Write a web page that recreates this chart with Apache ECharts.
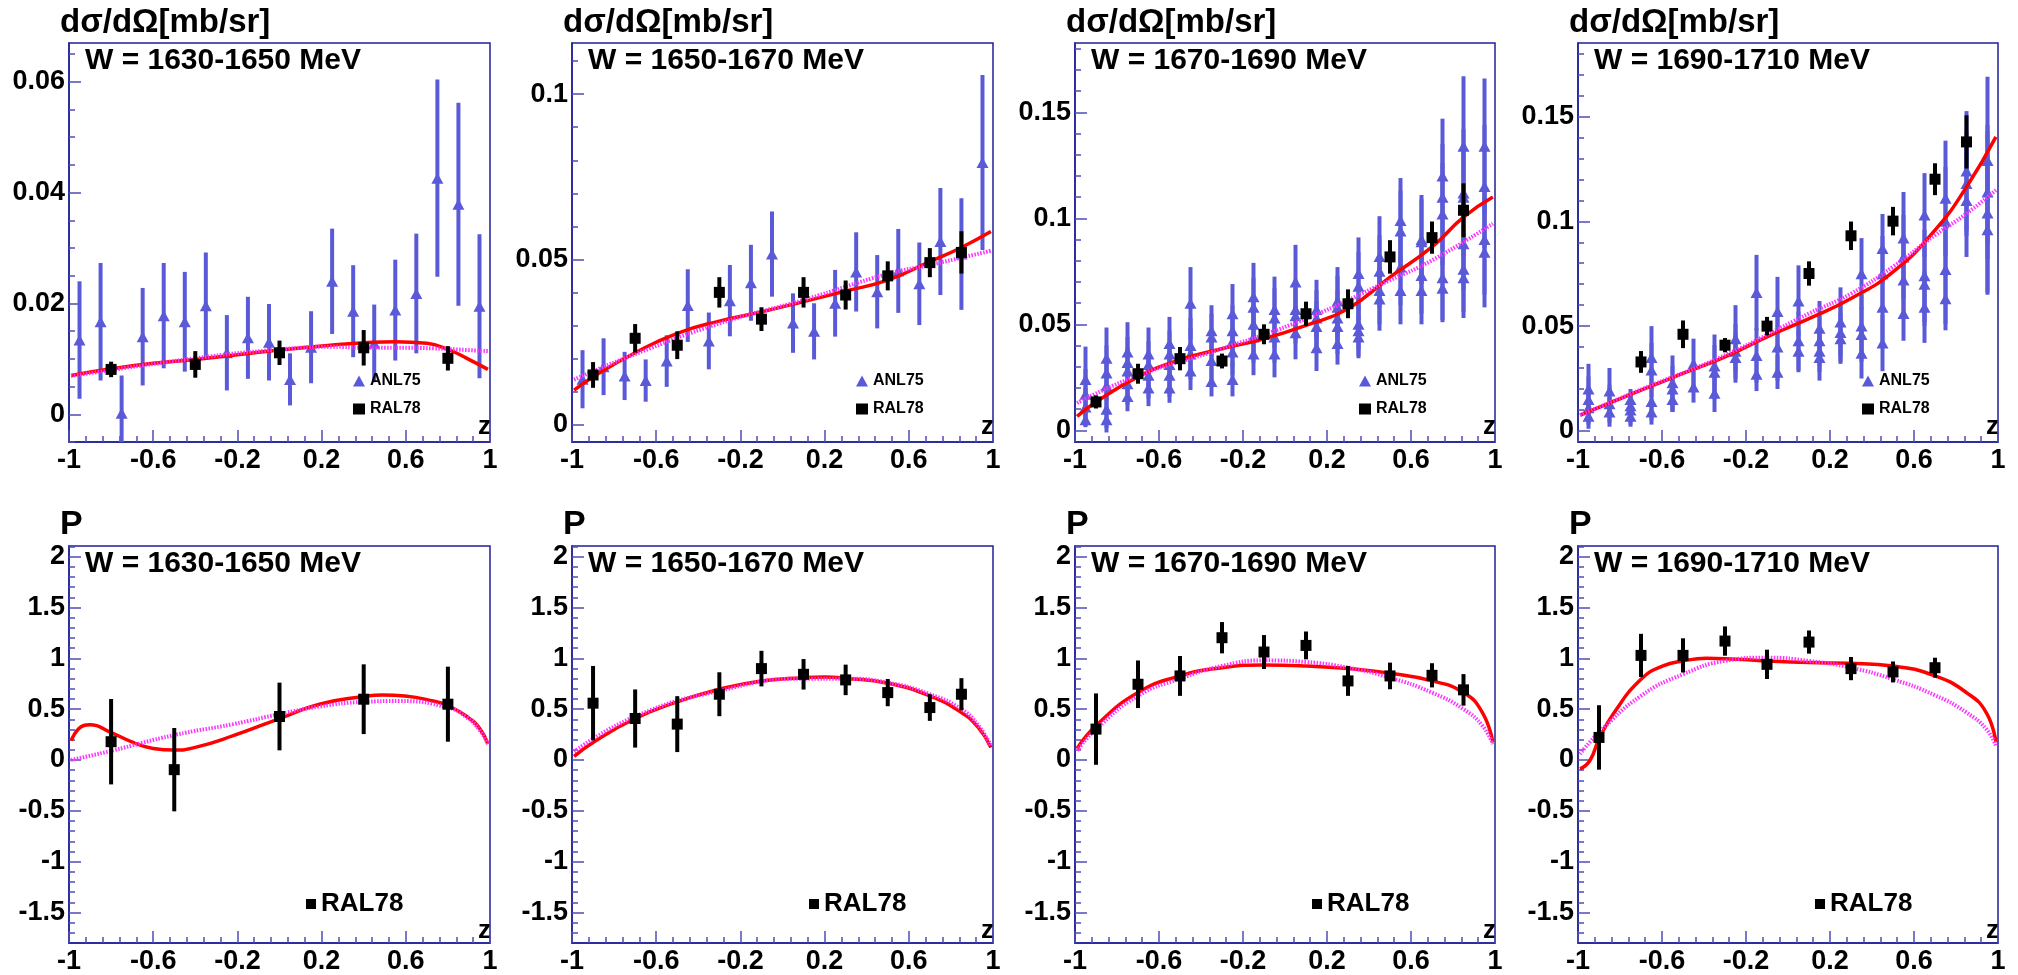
<!DOCTYPE html>
<html>
<head>
<meta charset="utf-8">
<script src="https://cdn.jsdelivr.net/npm/echarts@6/dist/echarts.min.js"></script>
<style>
  html, body { margin: 0; padding: 0; background: #fff; }
  #chart { width: 2018px; height: 975px; }
</style>
</head>
<body>
<div id="chart"></div>
<script>
// ---------------------------------------------------------------
// data
var wBins = ['W = 1630-1650 MeV', 'W = 1650-1670 MeV', 'W = 1670-1690 MeV', 'W = 1690-1710 MeV']

// ANL75 bins in z (cos theta)
var zBins = [-0.95, -0.85, -0.75, -0.65, -0.55, -0.45, -0.35, -0.25, -0.15, -0.05,
             0.05, 0.15, 0.25, 0.35, 0.45, 0.55, 0.65, 0.75, 0.85, 0.95]

// tick labels
var zMajor = [-1, -0.6, -0.2, 0.2, 0.6, 1]
var dsMajor1 = [0, 0.02, 0.04, 0.06]
var dsMajor2 = [0, 0.05, 0.1]
var dsMajor3 = [0, 0.05, 0.1, 0.15]
var polMajor = [-1.5, -1, -0.5, 0, 0.5, 1, 1.5, 2]

// dsigma/dOmega, ANL75
var anl1Val = [0.0134, 0.0167, 0.0002, 0.0140, 0.0178, 0.0167, 0.0196, 0.0111, 0.0138, 0.0130,
               0.0063, 0.0121, 0.0240, 0.0186, 0.0128, 0.0188, 0.0218, 0.0426, 0.0379, 0.0195]
var anl1Err = [0.0106, 0.0106, 0.0068, 0.0088, 0.0095, 0.0090, 0.0096, 0.0068, 0.0074, 0.0069,
               0.0047, 0.0065, 0.0095, 0.0083, 0.0070, 0.0091, 0.0108, 0.0178, 0.0183, 0.0130]
var anl2Val = [0.0137, 0.0175, 0.0147, 0.0133, 0.0192, 0.0360, 0.0253, 0.0375, 0.0429, 0.0516,
               0.0307, 0.0282, 0.0367, 0.0462, 0.0402, 0.0465, 0.0426, 0.0554, 0.0516, 0.0793]
var anl2Err = [0.0088, 0.0086, 0.0073, 0.0064, 0.0078, 0.0110, 0.0086, 0.0108, 0.0115, 0.0129,
               0.0090, 0.0085, 0.0101, 0.0120, 0.0111, 0.0127, 0.0125, 0.0162, 0.0169, 0.0265]
// several energies per z bin here
var anl3Val = [
    [0.024, 0.017, 0.011, 0.005], [0.034, 0.027, 0.021, 0.010, 0.005], [0.037, 0.032, 0.028, 0.022, 0.016],
    [0.036, 0.031, 0.026, 0.020], [0.041, 0.036, 0.031, 0.026, 0.020], [0.060, 0.040, 0.036, 0.028],
    [0.047, 0.044, 0.033, 0.023], [0.055, 0.047, 0.042, 0.037, 0.024], [0.063, 0.058, 0.050, 0.044, 0.036],
    [0.057, 0.053, 0.044, 0.036], [0.070, 0.057, 0.054, 0.046], [0.057, 0.053, 0.049, 0.039],
    [0.061, 0.058, 0.053, 0.049, 0.041], [0.074, 0.068, 0.050, 0.047, 0.044], [0.082, 0.075, 0.066, 0.062],
    [0.099, 0.094, 0.077, 0.066], [0.090, 0.089, 0.073, 0.066], [0.120, 0.110, 0.102, 0.072, 0.067],
    [0.134, 0.112, 0.110, 0.088, 0.076, 0.072], [0.134, 0.115, 0.090, 0.084]]
var anl3Err = [
    [0.0155, 0.012, 0.009, 0.0035], [0.0145, 0.013, 0.011, 0.009, 0.006], [0.014, 0.012, 0.011, 0.010, 0.007],
    [0.0125, 0.011, 0.011, 0.0086], [0.0125, 0.011, 0.010, 0.010, 0.007], [0.017, 0.013, 0.012, 0.009],
    [0.012, 0.011, 0.011, 0.007], [0.014, 0.012, 0.012, 0.011, 0.008], [0.016, 0.014, 0.013, 0.012, 0.010],
    [0.0155, 0.014, 0.012, 0.011], [0.0175, 0.014, 0.013, 0.0125], [0.014, 0.013, 0.012, 0.011],
    [0.016, 0.015, 0.013, 0.013, 0.010], [0.017, 0.016, 0.012, 0.012, 0.010], [0.019, 0.017, 0.016, 0.015],
    [0.020, 0.019, 0.018, 0.016], [0.021, 0.020, 0.018, 0.016], [0.027, 0.025, 0.024, 0.020, 0.016],
    [0.033, 0.030, 0.025, 0.022, 0.020, 0.019], [0.032, 0.029, 0.026, 0.026]]
var anl4Val = [
    [0.020, 0.015, 0.011, 0.007], [0.019, 0.013, 0.009], [0.015, 0.012, 0.010, 0.007],
    [0.035, 0.029, 0.014, 0.009], [0.023, 0.020, 0.015], [0.032, 0.021],
    [0.031, 0.028, 0.018], [0.044, 0.038, 0.035], [0.066, 0.036, 0.027],
    [0.057, 0.040, 0.028], [0.062, 0.043, 0.038], [0.049, 0.043, 0.038, 0.035],
    [0.052, 0.047, 0.044], [0.075, 0.050, 0.046, 0.037], [0.087, 0.075, 0.059, 0.042],
    [0.092, 0.083, 0.072, 0.056], [0.103, 0.074, 0.070, 0.059], [0.111, 0.100, 0.077, 0.063],
    [0.124, 0.118, 0.110], [0.129, 0.114, 0.104, 0.096]]
var anl4Err = [
    [0.012, 0.011, 0.008, 0.006], [0.011, 0.009, 0.007], [0.005, 0.006, 0.007, 0.005],
    [0.015, 0.013, 0.009, 0.006], [0.013, 0.011, 0.006], [0.012, 0.0075],
    [0.015, 0.013, 0.009], [0.016, 0.013, 0.012], [0.018, 0.013, 0.008],
    [0.0165, 0.016, 0.008], [0.017, 0.014, 0.010], [0.013, 0.012, 0.010, 0.011],
    [0.0165, 0.014, 0.012], [0.017, 0.015, 0.013, 0.012], [0.0165, 0.018, 0.016, 0.0135],
    [0.022, 0.020, 0.018, 0.013], [0.020, 0.022, 0.020, 0.017], [0.0275, 0.026, 0.026, 0.015],
    [0.0286, 0.025, 0.027], [0.040, 0.032, 0.039, 0.030]]

// dsigma/dOmega, RAL78
var ral1Z = [-0.8, -0.4, 0, 0.4, 0.8]
var ral1Val = [0.0081, 0.0090, 0.0111, 0.0120, 0.0101]
var ral1Err = [0.0014, 0.0024, 0.0022, 0.0032, 0.0022]
var ral2Z = [-0.9, -0.7, -0.5, -0.3, -0.1, 0.1, 0.3, 0.5, 0.7, 0.85]
var ral2Val = [0.0150, 0.0261, 0.0240, 0.0400, 0.0319, 0.0400, 0.0392, 0.0450, 0.0490, 0.0521]
var ral2Err = [0.0039, 0.0043, 0.0042, 0.0046, 0.0036, 0.0046, 0.0044, 0.0044, 0.0044, 0.0064]
var ral3Z = [-0.9, -0.7, -0.5, -0.3, -0.1, 0.1, 0.3, 0.5, 0.7, 0.85]
var ral3Val = [0.0134, 0.0267, 0.0338, 0.0327, 0.0453, 0.0550, 0.0597, 0.0818, 0.0909, 0.1038]
var ral3Err = [0.0031, 0.0047, 0.0055, 0.0035, 0.0047, 0.0057, 0.0068, 0.0079, 0.0076, 0.0127]
var ral4Z = [-0.7, -0.5, -0.3, -0.1, 0.1, 0.3, 0.5, 0.7, 0.85]
var ral4Val = [0.0329, 0.0461, 0.0409, 0.0500, 0.0751, 0.0931, 0.1001, 0.1201, 0.1379]
var ral4Err = [0.0052, 0.0066, 0.0034, 0.0044, 0.0058, 0.0068, 0.0068, 0.0076, 0.0127]

// polarisation P, RAL78
var pol1Z = [-0.8, -0.5, 0, 0.4, 0.8]
var pol1Val = [0.18, -0.095, 0.428, 0.598, 0.549]
var pol1Err = [0.42, 0.41, 0.333, 0.343, 0.369]
var pol2Z = [-0.9, -0.7, -0.5, -0.3, -0.1, 0.1, 0.3, 0.5, 0.7, 0.85]
var pol2Val = [0.559, 0.408, 0.353, 0.647, 0.899, 0.843, 0.788, 0.663, 0.516, 0.647]
var pol2Err = [0.366, 0.286, 0.275, 0.216, 0.175, 0.15, 0.15, 0.134, 0.131, 0.158]
var pol3Z = [-0.9, -0.7, -0.5, -0.3, -0.1, 0.1, 0.3, 0.5, 0.7, 0.85]
var pol3Val = [0.304, 0.745, 0.827, 1.203, 1.062, 1.127, 0.778, 0.827, 0.833, 0.69]
var pol3Err = [0.351, 0.234, 0.196, 0.154, 0.167, 0.137, 0.147, 0.131, 0.119, 0.155]
var pol4Z = [-0.9, -0.7, -0.5, -0.3, -0.1, 0.1, 0.3, 0.5, 0.7]
var pol4Val = [0.222, 1.029, 1.029, 1.17, 0.941, 1.16, 0.899, 0.866, 0.908]
var pol4Err = [0.317, 0.212, 0.168, 0.144, 0.144, 0.114, 0.114, 0.103, 0.098]

// fit curves (red solid, magenta dotted)
var red1Z = [-0.99, -0.8, -0.6, -0.4, 0, 0.25, 0.4, 0.55, 0.7, 0.8, 0.89, 0.99]
var red1 = [0.0070, 0.0082, 0.0092, 0.0099, 0.0116, 0.0125, 0.0129, 0.0131, 0.0128, 0.0117, 0.0101, 0.0081]
var mag1Z = [-0.99, -0.4, 0, 0.25, 0.4, 0.55, 0.73, 0.89, 0.99]
var mag1 = [0.0069, 0.0101, 0.0117, 0.0122, 0.0120, 0.0120, 0.0119, 0.0116, 0.0114]
var red2Z = [-0.99, -0.9, -0.7, -0.5, -0.3, -0.1, 0.1, 0.3, 0.5, 0.7, 0.85, 0.99]
var red2 = [0.0104, 0.0144, 0.0217, 0.0276, 0.0313, 0.0341, 0.0372, 0.0404, 0.0437, 0.0493, 0.0536, 0.0584]
var mag2Z = [-0.99, -0.7, -0.3, 0.1, 0.5, 0.7, 0.99]
var mag2 = [0.0136, 0.0213, 0.0306, 0.0377, 0.0456, 0.0483, 0.0526]
var red3Z = [-0.99, -0.9, -0.7, -0.5, -0.3, -0.1, 0.1, 0.3, 0.5, 0.7, 0.85, 0.99]
var red3 = [0.0066, 0.0134, 0.0252, 0.0333, 0.0385, 0.0432, 0.0495, 0.0574, 0.0723, 0.0865, 0.1006, 0.1101]
var mag3Z = [-0.99, -0.7, -0.3, 0.1, 0.5, 0.7, 0.99]
var mag3 = [0.0129, 0.0259, 0.0385, 0.0527, 0.0708, 0.0802, 0.0975]
var red4Z = [-0.99, -0.7, -0.5, -0.3, -0.1, 0.1, 0.3, 0.5, 0.7, 0.85, 0.99]
var red4 = [0.0075, 0.0194, 0.0274, 0.0353, 0.0449, 0.0536, 0.0632, 0.0759, 0.0958, 0.1164, 0.1403]
var mag4Z = [-0.99, -0.7, -0.3, 0.1, 0.3, 0.5, 0.7, 0.85, 0.99]
var mag4 = [0.0075, 0.0197, 0.0361, 0.0560, 0.0655, 0.0783, 0.0934, 0.1037, 0.1149]

var redP1Z = [-0.99, -0.933, -0.9, -0.8, -0.696, -0.6, -0.5, -0.4, -0.22, 0, 0.19, 0.4, 0.49, 0.596, 0.73, 0.8, 0.89, 0.953, 0.99]
var redP1 = [0.19, 0.337, 0.346, 0.27, 0.173, 0.114, 0.098, 0.124, 0.239, 0.408, 0.549, 0.624, 0.64, 0.63, 0.58, 0.533, 0.428, 0.304, 0.157]
var magP1Z = [-0.99, -0.8, -0.5, -0.22, 0, 0.19, 0.4, 0.57, 0.8, 0.89, 0.953, 0.99]
var magP1 = [0.0, 0.09, 0.245, 0.353, 0.451, 0.526, 0.572, 0.58, 0.516, 0.418, 0.288, 0.157]
var redP2Z = [-0.99, -0.9, -0.7, -0.5, -0.3, -0.1, 0.1, 0.2, 0.3, 0.5, 0.7, 0.85, 0.93, 0.99]
var redP2 = [0.036, 0.173, 0.408, 0.572, 0.696, 0.778, 0.81, 0.817, 0.804, 0.755, 0.631, 0.467, 0.32, 0.124]
var magP2Z = [-0.99, -0.7, -0.3, 0.1, 0.3, 0.5, 0.7, 0.85, 0.93, 0.99]
var magP2 = [0.082, 0.428, 0.68, 0.8, 0.8, 0.761, 0.647, 0.5, 0.34, 0.14]
var redP3Z = [-0.99, -0.9, -0.7, -0.5, -0.3, -0.1, 0.1, 0.3, 0.5, 0.7, 0.85, 0.94, 0.99]
var redP3 = [0.114, 0.337, 0.663, 0.827, 0.908, 0.935, 0.925, 0.899, 0.853, 0.778, 0.663, 0.467, 0.173]
var magP3Z = [-0.99, -0.9, -0.7, -0.5, -0.3, -0.1, 0.1, 0.3, 0.5, 0.7, 0.85, 0.94, 0.99]
var magP3 = [0.092, 0.304, 0.631, 0.8, 0.925, 0.98, 0.964, 0.908, 0.81, 0.663, 0.5, 0.337, 0.157]
var redP4Z = [-0.99, -0.944, -0.9, -0.833, -0.7, -0.595, -0.5, -0.389, -0.3, -0.1, 0.1, 0.3, 0.5, 0.7, 0.85, 0.944, 0.99]
var redP4 = [-0.088, -0.007, 0.206, 0.451, 0.794, 0.925, 0.974, 1.0, 0.997, 0.974, 0.958, 0.951, 0.925, 0.827, 0.663, 0.467, 0.173]
var magP4Z = [-0.99, -0.9, -0.7, -0.5, -0.3, -0.1, 0.1, 0.3, 0.5, 0.7, 0.85, 0.944, 0.99]
var magP4 = [0.059, 0.271, 0.631, 0.843, 0.974, 1.007, 0.974, 0.908, 0.794, 0.637, 0.467, 0.304, 0.14]

// ---------------------------------------------------------------
// look
var BLUE = '#5a5ad8', FRAME = '#20209a', TICK = '#4d4db5', RED = '#ff0000', MAGENTA = '#ff33ff'
var FONT = 'Liberation Sans'

var gridLeft = [69, 572, 1075, 1578]
var gridWidth = [421, 421, 420, 420]
var rowTop = [43, 546]
var rowHeight = [399, 398]

var panels = [
    { row: 0, col: 0, yMin: -0.005, yMax: 0.067, major: dsMajor1, minor: [-0.005, 0.065, 0.005],
      anlVal: anl1Val, anlErr: anl1Err, ralZ: ral1Z, ralVal: ral1Val, ralErr: ral1Err, redZ: red1Z, red: red1, magZ: mag1Z, mag: mag1 },
    { row: 0, col: 1, yMin: -0.0053, yMax: 0.1155, major: dsMajor2, minor: [0, 0.11, 0.01],
      anlVal: anl2Val, anlErr: anl2Err, ralZ: ral2Z, ralVal: ral2Val, ralErr: ral2Err, redZ: red2Z, red: red2, magZ: mag2Z, mag: mag2 },
    { row: 0, col: 2, yMin: -0.0055, yMax: 0.1827, major: dsMajor3, minor: [0, 0.18, 0.01],
      anlVal: anl3Val, anlErr: anl3Err, ralZ: ral3Z, ralVal: ral3Val, ralErr: ral3Err, redZ: red3Z, red: red3, magZ: mag3Z, mag: mag3 },
    { row: 0, col: 3, yMin: -0.0053, yMax: 0.1851, major: dsMajor3, minor: [0, 0.18, 0.01],
      anlVal: anl4Val, anlErr: anl4Err, ralZ: ral4Z, ralVal: ral4Val, ralErr: ral4Err, redZ: red4Z, red: red4, magZ: mag4Z, mag: mag4 },
    { row: 1, col: 0, yMin: -1.8, yMax: 2.105, major: polMajor, minor: [-1.7, 2.1, 0.1],
      ralZ: pol1Z, ralVal: pol1Val, ralErr: pol1Err, redZ: redP1Z, red: redP1, magZ: magP1Z, mag: magP1 },
    { row: 1, col: 1, yMin: -1.8, yMax: 2.105, major: polMajor, minor: [-1.7, 2.1, 0.1],
      ralZ: pol2Z, ralVal: pol2Val, ralErr: pol2Err, redZ: redP2Z, red: redP2, magZ: magP2Z, mag: magP2 },
    { row: 1, col: 2, yMin: -1.8, yMax: 2.105, major: polMajor, minor: [-1.7, 2.1, 0.1],
      ralZ: pol3Z, ralVal: pol3Val, ralErr: pol3Err, redZ: redP3Z, red: redP3, magZ: magP3Z, mag: magP3 },
    { row: 1, col: 3, yMin: -1.8, yMax: 2.105, major: polMajor, minor: [-1.7, 2.1, 0.1],
      ralZ: pol4Z, ralVal: pol4Val, ralErr: pol4Err, redZ: redP4Z, red: redP4, magZ: magP4Z, mag: magP4 }
]

// minor tick positions
function steps(from, to, step) {
    var out = []
    for (var k = 0; from + k * step <= to + step * 1e-6; k++) {
        out.push(+(from + k * step).toFixed(6))
    }
    return out
}
var zMinor = steps(-1, 1, 0.08)

function pairs(zs, vs) {
    return zs.map(function (z, i) { return [z, vs[i]] })
}
function triples(zs, vs, es) {
    return zs.map(function (z, i) { return [z, vs[i], es[i]] })
}
// ANL75: one or several points per z bin
function anlPoints(vals, errs) {
    var pts = []
    zBins.forEach(function (z, i) {
        var v = [].concat(vals[i]), e = [].concat(errs[i])
        v.forEach(function (val, k) { pts.push([z, val, e[k]]) })
    })
    return pts
}

function errorBar(color, width) {
    return function (params, api) {
        var lo = api.coord([api.value(0), api.value(1) - api.value(2)])
        var hi = api.coord([api.value(0), api.value(1) + api.value(2)])
        return {
            type: 'line',
            shape: { x1: lo[0], y1: lo[1], x2: hi[0], y2: hi[1] },
            style: { stroke: color, lineWidth: width }
        }
    }
}

var labelStyle = { color: '#000', fontSize: 27, fontWeight: 'bold', fontFamily: FONT }

var grids = [], xAxes = [], yAxes = [], series = [], legends = [], graphics = []

panels.forEach(function (p, i) {
    var left = gridLeft[p.col], top = rowTop[p.row]
    var w = gridWidth[p.col], h = rowHeight[p.row]
    grids.push({ left: left, top: top, width: w, height: h, show: true, borderColor: FRAME, borderWidth: 1.5 })

    // x axis: major + minor ticks (two overlaid axes)
    xAxes.push({
        gridIndex: i, type: 'value', min: -1, max: 1, position: 'bottom',
        axisLine: { show: true, onZero: false, lineStyle: { color: FRAME, width: 1.5 } },
        axisTick: { show: true, inside: true, length: 12, customValues: zMajor, lineStyle: { color: TICK, width: 1.5 } },
        axisLabel: Object.assign({ show: true, customValues: zMajor, margin: 5 }, labelStyle),
        splitLine: { show: false }
    })
    xAxes.push({
        gridIndex: i, type: 'value', min: -1, max: 1, position: 'bottom',
        axisLine: { show: false, onZero: false },
        axisTick: { show: true, inside: true, length: 6, customValues: zMinor, lineStyle: { color: TICK, width: 1.5 } },
        axisLabel: { show: false }, splitLine: { show: false }
    })
    yAxes.push({
        gridIndex: i, type: 'value', min: p.yMin, max: p.yMax, position: 'left',
        axisLine: { show: true, onZero: false, lineStyle: { color: FRAME, width: 1.5 } },
        axisTick: { show: true, inside: true, length: 12, customValues: p.major, lineStyle: { color: TICK, width: 1.5 } },
        axisLabel: Object.assign({ show: true, customValues: p.major, margin: 4 }, labelStyle),
        splitLine: { show: false }
    })
    yAxes.push({
        gridIndex: i, type: 'value', min: p.yMin, max: p.yMax, position: 'left',
        axisLine: { show: false, onZero: false },
        axisTick: { show: true, inside: true, length: 6, customValues: steps(p.minor[0], p.minor[1], p.minor[2]),
                    lineStyle: { color: TICK, width: 1.5 } },
        axisLabel: { show: false }, splitLine: { show: false }
    })

    var ax = { xAxisIndex: 2 * i, yAxisIndex: 2 * i }

    if (p.anlVal) {
        var anl = anlPoints(p.anlVal, p.anlErr)
        series.push(Object.assign({
            type: 'custom', name: 'ANL75 err', clip: true, z: 2, silent: true,
            renderItem: errorBar(BLUE, 4), encode: { x: 0, y: 1 }, data: anl
        }, ax))
        series.push(Object.assign({
            type: 'scatter', name: 'ANL75', symbol: 'triangle', symbolSize: [12, 11], z: 3, silent: true,
            itemStyle: { color: BLUE, opacity: 1 }, data: anl.map(function (d) { return [d[0], d[1]] })
        }, ax))
    }
    series.push(Object.assign({
        type: 'line', name: 'fit', data: pairs(p.redZ, p.red), smooth: 0.5,
        showSymbol: false, symbol: 'none', z: 4, silent: true,
        lineStyle: { color: RED, width: 3.5 }
    }, ax))
    series.push(Object.assign({
        type: 'line', name: 'fit2', data: pairs(p.magZ, p.mag), smooth: 0.5,
        showSymbol: false, symbol: 'none', z: 5, silent: true,
        lineStyle: { color: MAGENTA, width: 4, type: [1.5, 1.5] }
    }, ax))
    series.push(Object.assign({
        type: 'custom', name: 'RAL78 err', clip: true, z: 6, silent: true,
        renderItem: errorBar('#000', 4), encode: { x: 0, y: 1 }, data: triples(p.ralZ, p.ralVal, p.ralErr)
    }, ax))
    series.push(Object.assign({
        type: 'scatter', name: 'RAL78', symbol: 'rect', symbolSize: 11, z: 7, silent: true,
        itemStyle: { color: '#000', opacity: 1 }, data: pairs(p.ralZ, p.ralVal)
    }, ax))

    // legends
    if (p.row === 0) {
        legends.push({
            orient: 'vertical', left: left + 284, top: 373, padding: 0, itemGap: 12,
            itemWidth: 12, itemHeight: 11, selectedMode: false,
            data: [{ name: 'ANL75', icon: 'triangle' }, { name: 'RAL78', icon: 'rect' }],
            textStyle: { color: '#000', fontSize: 16, lineHeight: 16, fontWeight: 'bold', fontFamily: FONT }
        })
    } else {
        legends.push({
            orient: 'vertical', left: left + 237, top: 891, padding: 0,
            itemWidth: 10, itemHeight: 10, selectedMode: false,
            data: [{ name: 'RAL78', icon: 'rect' }],
            textStyle: { color: '#000', fontSize: 26, lineHeight: 26, fontWeight: 'bold', fontFamily: FONT }
        })
    }

    // texts: y title, W range, z
    graphics.push({
        type: 'text', x: left - 9, y: p.row === 0 ? top - 20 : top - 21,
        style: { text: p.row === 0 ? 'dσ/dΩ[mb/sr]' : 'P', fill: '#000', align: 'left', verticalAlign: 'middle',
                 font: 'bold ' + (p.row === 0 ? 33 : 34) + 'px "' + FONT + '"' }
    })
    graphics.push({
        type: 'text', x: left + 16, y: top + 18,
        style: { text: wBins[p.col], fill: '#000', align: 'left', verticalAlign: 'middle',
                 font: 'bold 30px "' + FONT + '"' }
    })
    graphics.push({
        type: 'text', x: left + w + 1, y: top + h - (p.row === 0 ? 15 : 13),
        style: { text: 'z', fill: '#000', align: 'right', verticalAlign: 'middle',
                 font: 'bold 26px "' + FONT + '"' }
    })
})

var chart = echarts.init(document.getElementById('chart'))
chart.setOption({
    animation: false,
    backgroundColor: '#fff',
    grid: grids,
    xAxis: xAxes,
    yAxis: yAxes,
    legend: legends,
    series: series,
    graphic: graphics
})
</script>
</body>
</html>
